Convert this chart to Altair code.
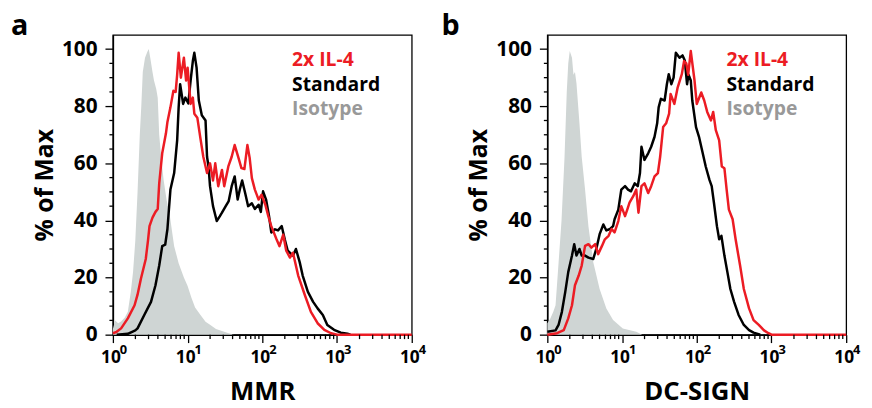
import altair as alt
import pandas as pd

FONT = "Open Sans"
RED = "#ec1c24"
BLACK = "#000000"
ISO_FILL = "#cfd5d4"
ISO_TEXT = "#999999"

# legend entries
series_names = ["2x IL-4", "Standard", "Isotype"]
series_colors = [RED, BLACK, ISO_TEXT]

# panel titles
panel_letters = ["a", "b"]
panel_markers = ["MMR", "DC-SIGN"]

# axis ticks
y_major = [0, 20, 40, 60, 80, 100]
y_minor = [5, 10, 15, 25, 30, 35, 45, 50, 55, 65, 70, 75, 85, 90, 95]
x_major_exp = [0, 1, 2, 3, 4]
x_minor = [2, 3, 4, 5, 6, 7, 8, 9,
           20, 30, 40, 50, 60, 70, 80, 90,
           200, 300, 400, 500, 600, 700, 800, 900,
           2000, 3000, 4000, 5000, 6000, 7000, 8000, 9000]

# ---- panel a: MMR (x given as log10 of intensity, y as % of Max) ----
mmr_iso_log = [0.00, 0.03, 0.07, 0.11, 0.16, 0.20, 0.24, 0.27, 0.30, 0.33, 0.36, 0.38, 0.40,
               0.43, 0.46, 0.48, 0.50, 0.53, 0.55, 0.58, 0.60, 0.62, 0.65, 0.68, 0.72, 0.76,
               0.82, 0.88, 0.95, 1.00, 1.05, 1.10, 1.17, 1.24, 1.30, 1.38, 1.47, 1.55, 1.62]
mmr_iso_pct = [2, 5, 4, 4.6, 6, 8, 15, 22, 33, 50, 70, 80, 92,
               97, 99, 100, 97, 92, 89, 86, 83, 70, 61, 54, 47, 42,
               31, 25, 20, 17, 13, 9.5, 7, 4.5, 3.5, 2, 1.2, 0.5, 0]

mmr_il4_log = [0.00, 0.05, 0.11, 0.20, 0.29, 0.33, 0.375, 0.44, 0.47, 0.49, 0.53, 0.57, 0.60,
               0.62, 0.66, 0.71, 0.73, 0.77, 0.81, 0.84, 0.86, 0.88, 0.91, 0.95, 0.98, 1.00,
               1.04, 1.07, 1.09, 1.13, 1.17, 1.21, 1.26, 1.30, 1.34, 1.37, 1.41, 1.46, 1.49,
               1.545, 1.59, 1.63, 1.68, 1.72, 1.76, 1.80, 1.83, 1.86, 1.90, 1.95, 1.99, 2.04,
               2.08, 2.12, 2.19, 2.23, 2.28, 2.32, 2.37, 2.41, 2.48, 2.57, 2.65, 2.74, 2.83,
               2.92, 3.00, 4.00]
mmr_il4_pct = [0.5, 1, 2.2, 5.7, 10.3, 14, 19.6, 26.5, 33, 38, 41, 43, 44,
               53, 63.5, 70.5, 74.5, 79.6, 85.4, 85, 91, 98.7, 90, 97, 89, 93.5,
               80.8, 83, 77.4, 76, 69, 62.3, 56.6, 60, 54, 60, 52, 57.7, 52,
               58.9, 62.3, 66.4, 62, 58.3, 58, 66.4, 62, 54.8, 50.8, 47.3, 49, 45.5,
               41.5, 38, 33.4, 31, 35, 29.4, 27, 28.7, 20.7, 13.8, 8, 4, 1.7,
               0.5, 0, 0]

mmr_std_log = [0.05, 0.20, 0.30, 0.33, 0.42, 0.51, 0.57, 0.62, 0.66, 0.70, 0.73, 0.77, 0.82,
               0.86, 0.88, 0.90, 0.94, 0.97, 1.01, 1.04, 1.07, 1.09, 1.12, 1.15, 1.19, 1.24,
               1.26, 1.28, 1.30, 1.34, 1.39, 1.43, 1.46, 1.51, 1.55, 1.59, 1.63, 1.67, 1.70,
               1.73, 1.77, 1.81, 1.86, 1.90, 1.95, 1.98, 2.01, 2.05, 2.09, 2.12, 2.17, 2.21,
               2.26, 2.30, 2.34, 2.41, 2.45, 2.50, 2.54, 2.61, 2.68, 2.74, 2.81, 2.87, 2.96,
               3.05, 3.14, 3.18]
mmr_std_pct = [0, 0.3, 1.5, 2.2, 6.9, 11.5, 17.3, 24.2, 31, 31.5, 37, 50.8, 56.6,
               68, 79.6, 87.7, 80.8, 83, 81, 89, 95.8, 98.7, 93.5, 82, 76.8, 75,
               62.3, 58.9, 52, 45, 39.8, 41.4, 42.7, 45, 46.8, 52, 55.4, 47.3, 51,
               54, 49.6, 45, 46, 44, 45.5, 43, 50.2, 47.3, 41.5, 35.8, 36.9, 36.5,
               38, 33.4, 29.4, 27.7, 30, 25.4, 20.7, 15, 11.5, 9.2, 6.9, 3.4, 1.7,
               0.7, 0.3, 0]

# ---- panel b: DC-SIGN ----
dcs_iso_log = [0.00, 0.04, 0.08, 0.11, 0.15, 0.19, 0.23, 0.26, 0.28, 0.30, 0.33, 0.35, 0.37,
               0.39, 0.43, 0.46, 0.505, 0.55, 0.615, 0.70, 0.79, 0.88, 1.01, 1.19, 1.27]
dcs_iso_pct = [4, 5.7, 8, 10.3, 25, 40, 62, 85, 95, 99.3, 97, 91, 92,
               88, 74, 62.3, 50.8, 38, 25.4, 16, 9.2, 5.1, 2.2, 1, 0]

dcs_il4_log = [0.00, 0.13, 0.22, 0.28, 0.33, 0.37, 0.42, 0.46, 0.505, 0.55, 0.59, 0.64, 0.68,
               0.73, 0.77, 0.82, 0.86, 0.90, 0.95, 0.99, 1.04, 1.07, 1.10, 1.15, 1.19, 1.22,
               1.26, 1.30, 1.35, 1.39, 1.435, 1.48, 1.51, 1.55, 1.59, 1.63, 1.65, 1.70, 1.745,
               1.80, 1.83, 1.86, 1.885, 1.92, 1.97, 2.00, 2.06, 2.10, 2.14, 2.19, 2.22, 2.255,
               2.30, 2.335, 2.37, 2.40, 2.43, 2.48, 2.52, 2.58, 2.63, 2.70, 2.76, 2.83, 2.90,
               2.96, 3.00, 4.00]
dcs_il4_pct = [0, 0.5, 1.6, 5.7, 10.3, 17.3, 20.7, 24.2, 31.1, 31.7, 30.5, 31.7, 28.2,
               31, 33.4, 34.6, 37, 35.8, 39.8, 45, 41.5, 43.8, 46.2, 48.5, 50.8, 42.7,
               52, 53, 49.6, 52, 55.4, 56.6, 62.3, 72.7, 74, 77.4, 84.3, 80.8, 86.6,
               91.2, 95.8, 95, 91, 99.3, 89, 80.8, 84.8, 82, 78, 75, 78, 71.6,
               68, 58.9, 58.3, 50.8, 43.8, 40.4, 33.4, 24.2, 16, 9.2, 5.1, 3.4, 1.5,
               0.5, 0, 0]

dcs_std_log = [0.00, 0.11, 0.15, 0.195, 0.24, 0.28, 0.33, 0.36, 0.39, 0.43, 0.46, 0.505, 0.55,
               0.615, 0.66, 0.70, 0.75, 0.79, 0.84, 0.88, 0.90, 0.95, 0.99, 1.04, 1.08, 1.12,
               1.17, 1.21, 1.24, 1.26, 1.30, 1.35, 1.39, 1.435, 1.47, 1.49, 1.52, 1.57, 1.60,
               1.625, 1.66, 1.69, 1.72, 1.77, 1.81, 1.84, 1.87, 1.89, 1.92, 1.94, 1.99, 2.03,
               2.08, 2.12, 2.17, 2.20, 2.23, 2.27, 2.30, 2.33, 2.37, 2.41, 2.45, 2.50, 2.56,
               2.63, 2.70, 2.76, 2.85]
dcs_std_pct = [1, 1.5, 3.4, 8, 15, 21.9, 27.7, 31.7, 27.7, 30, 27.7, 27.7, 27,
               26.5, 30.5, 35.2, 38.6, 36.5, 37, 38, 40.4, 43.8, 50.8, 52, 50.8, 50.2,
               53, 52, 56.6, 65.8, 61.2, 63.5, 65.8, 69.3, 74, 79.6, 82.6, 82, 87.7,
               91.2, 87.7, 90, 98.7, 97, 97.8, 96, 87.7, 91, 89, 82, 72.7, 69.3,
               63.5, 58.9, 54.2, 52, 46.2, 38, 33.4, 34.6, 27.7, 21.9, 16, 11.5, 6.9,
               3.4, 1.6, 0.7, 0]

W, H = 302, 303


def curve_df(logs, pcts):
    return pd.DataFrame({"x": [10 ** v for v in logs], "y": pcts})


def panel(letter, xtitle, iso, il4, std, letter_dx):
    xs = alt.Scale(type="log", domain=[1, 10000], nice=False)
    ys = alt.Scale(domain=[0, 105], nice=False, zero=True)
    xaxis = alt.Axis(values=[10 ** e for e in x_major_exp], labels=False, tickSize=8,
                     tickWidth=1.3, domainWidth=1.5, title=xtitle, titleFontSize=26,
                     titlePadding=36)
    yaxis = alt.Axis(values=y_major, tickSize=8, tickWidth=1.3, domainWidth=1.5,
                     labelPadding=8, labelFontSize=21, title="% of Max",
                     titleFontSize=25, titlePadding=4)

    def X(field):
        return alt.X(field, scale=xs, axis=xaxis)

    def Y(field):
        return alt.Y(field, scale=ys, axis=yaxis)

    area = alt.Chart(curve_df(*iso)).mark_area(color=ISO_FILL, opacity=1).encode(
        x=X("x:Q"), y=Y("y:Q"))
    std_line = alt.Chart(curve_df(*std)).mark_line(
        color=BLACK, strokeWidth=2.5, strokeJoin="round").encode(x=X("x:Q"), y=Y("y:Q"))
    il4_line = alt.Chart(curve_df(*il4)).mark_line(
        color=RED, strokeWidth=2.5, strokeJoin="round").encode(x=X("x:Q"), y=Y("y:Q"))

    yminor = alt.Chart(pd.DataFrame({"y": y_minor})).mark_rule(
        color="black", strokeWidth=1.3).encode(
        y=Y("y:Q"), x=alt.value(-3.5), x2=alt.value(0))
    xminor = alt.Chart(pd.DataFrame({"x": x_minor})).mark_rule(
        color="black", strokeWidth=1.3).encode(
        x=X("x:Q"), y=alt.value(H), y2=alt.value(H + 4.5))

    tick_df = pd.DataFrame({"x": [10 ** e for e in x_major_exp],
                            "base": ["10"] * len(x_major_exp),
                            "exp": [str(e) for e in x_major_exp]})
    base_txt = alt.Chart(tick_df).mark_text(
        font=FONT, fontWeight="bold", fontSize=17.5, align="center",
        baseline="alphabetic", dx=-2, color="black").encode(
        x=X("x:Q"), y=alt.value(H + 28.3), text="base:N")
    exp_txt = alt.Chart(tick_df).mark_text(
        font=FONT, fontWeight="bold", fontSize=13, align="left",
        baseline="alphabetic", dx=7, color="black").encode(
        x=X("x:Q"), y=alt.value(H + 19.7), text="exp:N")

    letter_txt = alt.Chart(pd.DataFrame({"t": [letter]})).mark_text(
        font=FONT, fontWeight="bold", fontSize=29, align="left",
        baseline="alphabetic", color="black").encode(
        x=alt.value(letter_dx), y=alt.value(0), text="t:N")

    legend_layers = []
    for i, (name, col) in enumerate(zip(series_names, series_colors)):
        legend_layers.append(
            alt.Chart(pd.DataFrame({"t": [name]})).mark_text(
                font=FONT, fontWeight="bold", fontSize=19.5, align="left",
                baseline="alphabetic", color=col).encode(
                x=alt.value(181), y=alt.value(32 + 24.5 * i), text="t:N"))

    return alt.layer(area, std_line, il4_line, yminor, xminor, base_txt, exp_txt,
                     letter_txt, *legend_layers).properties(width=W, height=H)


pa = panel(panel_letters[0], panel_markers[0],
           (mmr_iso_log, mmr_iso_pct), (mmr_il4_log, mmr_il4_pct),
           (mmr_std_log, mmr_std_pct), -103)
pb = panel(panel_letters[1], panel_markers[1],
           (dcs_iso_log, dcs_iso_pct), (dcs_il4_log, dcs_il4_pct),
           (dcs_std_log, dcs_std_pct), -107)

chart = alt.hconcat(pa, pb, spacing=137, bounds="flush").properties(
    padding={"left": 2, "top": 1, "right": 2, "bottom": 0}
).configure_view(stroke="black", strokeWidth=1.3).configure_axis(
    labelFont=FONT, titleFont=FONT, labelFontWeight="bold", titleFontWeight="bold",
    labelColor="black", titleColor="black", domainColor="black", tickColor="black",
    grid=False)

chart.save("out.html", embed_options={"renderer": "svg", "actions": False})
